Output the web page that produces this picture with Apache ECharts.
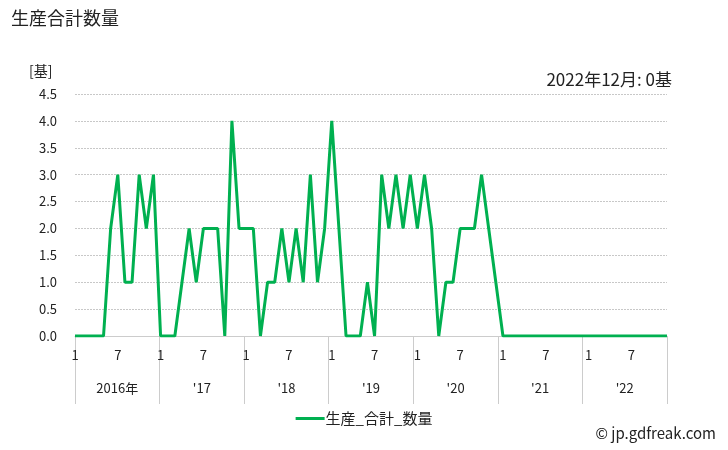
<!DOCTYPE html>
<html><head><meta charset="utf-8">
<script src="https://cdn.jsdelivr.net/npm/echarts@6/dist/echarts.min.js"></script>
<style>html,body{margin:0;padding:0;background:#fff}#c{width:728px;height:450px}</style>
</head><body><div id="c"></div>
<script>
const years = ['2016','2017','2018','2019','2020','2021','2022'];
const yearLabels = ['2016年', "'17", "'18", "'19", "'20", "'21", "'22"];
const v2016 = [0,0,0,0,0,2,3,1,1,3,2,3];
const v2017 = [0,0,0,1,2,1,2,2,2,0,4,2];
const v2018 = [2,2,0,1,1,2,1,2,1,3,1,2];
const v2019 = [4,2,0,0,0,1,0,3,2,3,2,3];
const v2020 = [2,3,2,0,1,1,2,2,2,3,2,1];
const v2021 = [0,0,0,0,0,0,0,0,0,0,0,0];
const v2022 = [0,0,0,0,0,0,0,0,0,0,0,0];
const yTicks = [0,0.5,1,1.5,2,2.5,3,3.5,4,4.5];
const seriesName = '生産_合計_数量';

const months = [];
years.forEach(y => { for (let m = 1; m <= 12; m++) months.push(y + '/' + m); });
const values = [].concat(v2016, v2017, v2018, v2019, v2020, v2021, v2022);
const FONT = '"Noto Sans CJK JP", "Noto Sans", sans-serif';

const chart = echarts.init(document.getElementById('c'));
chart.setOption({
  animation: false,
  textStyle: { fontFamily: FONT },
  title: [
    { text: '生産合計数量', left: 6, top: 4, textStyle: { fontSize: 18, fontWeight: 'normal', color: '#222', fontFamily: FONT } },
    { text: '[基]', left: 24, top: 59, textStyle: { fontSize: 14, fontWeight: 'normal', color: '#222', fontFamily: FONT } },
    { text: '2022年12月: 0基', right: 51, top: 66, textStyle: { fontSize: 17, fontWeight: 'normal', color: '#222', fontFamily: FONT } },
    { text: '© jp.gdfreak.com', right: 7, top: 421, textStyle: { fontSize: 15, fontWeight: 'normal', color: '#222', fontFamily: FONT } }
  ],
  legend: {
    data: [seriesName], top: 406, left: 'center',
    icon: 'rect', itemWidth: 29, itemHeight: 3, itemGap: 2,
    textStyle: { fontSize: 15, color: '#222', fontFamily: FONT, padding: [0, 0, 0, -4] }
  },
  grid: { left: 75, right: 61, top: 94, bottom: 114 },
  xAxis: [
    {
      type: 'category', data: months, boundaryGap: false,
      axisLine: { show: true, lineStyle: { color: '#ccc' } },
      axisTick: { show: false },
      axisLabel: {
        interval: (i) => i % 6 === 0, margin: 13, fontSize: 13, color: '#222',
        formatter: (v) => v.split('/')[1]
      },
      splitLine: { show: false }
    },
    {
      type: 'category', data: yearLabels, boundaryGap: true, position: 'bottom',
      axisLine: { show: false },
      axisTick: { show: true, length: 68, lineStyle: { color: '#ccc' } },
      axisLabel: { margin: 46, fontSize: 13, color: '#222' },
      splitLine: { show: false }
    }
  ],
  yAxis: {
    type: 'value', min: 0, max: 4.5, interval: 0.5,
    axisLine: { show: false }, axisTick: { show: false },
    axisLabel: { margin: 18, fontSize: 13, color: '#222', formatter: (v) => v.toFixed(1) },
    splitLine: { lineStyle: { color: '#c8c8c8', type: [2, 1] } }
  },
  series: [{
    name: seriesName, type: 'line', data: values, xAxisIndex: 0,
    symbol: 'none', lineStyle: { color: '#00b050', width: 3 }, itemStyle: { color: '#00b050' }
  }]
});
</script></body></html>
